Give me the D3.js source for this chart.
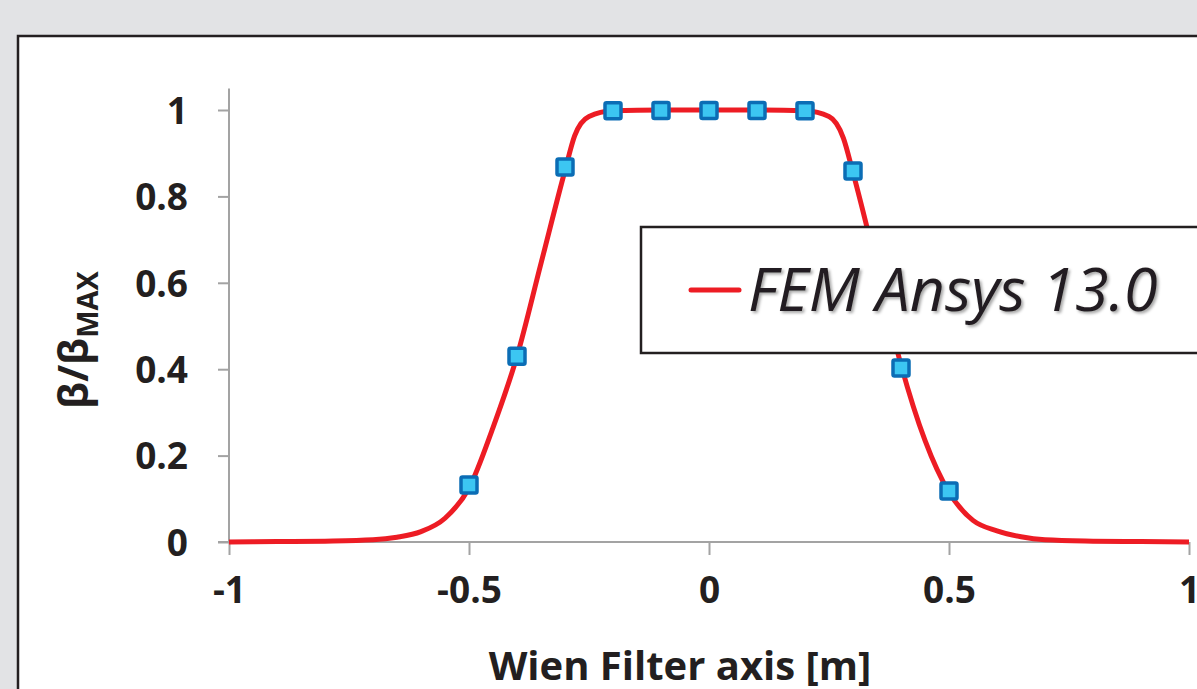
<!DOCTYPE html>
<html>
<head>
<meta charset="utf-8">
<script src="https://cdn.jsdelivr.net/npm/d3@7"></script>
<style>
  html, body { margin: 0; padding: 0; background: #e2e3e5; }
  svg { display: block; }
  text { fill: #231f20; }
</style>
</head>
<body>
<div id="chart"></div>
<script>
// FEM curve
var curveX = [-1, -0.9, -0.8, -0.7, -0.65, -0.6, -0.55, -0.5, -0.45, -0.4, -0.35, -0.3, -0.28, -0.25, -0.2,
              -0.1, 0, 0.1, 0.2, 0.25, 0.28, 0.3, 0.35, 0.4, 0.45, 0.5, 0.55, 0.6, 0.65, 0.7, 0.8, 0.9, 1];
var curveY = [0, 0.001, 0.002, 0.005, 0.011, 0.024, 0.055, 0.125, 0.265, 0.43, 0.645, 0.86, 0.94, 0.985, 0.998,
              1, 1, 1, 0.998, 0.985, 0.935, 0.855, 0.635, 0.41, 0.235, 0.115, 0.05, 0.026, 0.012, 0.005, 0.002, 0.001, 0];

// measured points (square markers)
var pointX = [-0.5, -0.4, -0.3, -0.2, -0.1, 0, 0.1, 0.2, 0.3, 0.4, 0.5];
var pointY = [0.132, 0.43, 0.868, 0.998, 0.999, 0.999, 0.999, 0.998, 0.859, 0.403, 0.118];

var xTicks = [-1, -0.5, 0, 0.5, 1];
var yTicks = [0, 0.2, 0.4, 0.6, 0.8, 1];
var legendLabel = "FEM Ansys 13.0";

var width = 1197, height = 689;

var svg = d3.select("#chart").append("svg")
    .attr("width", width)
    .attr("height", height);

var defs = svg.append("defs");
var shadow = defs.append("filter").attr("id", "shadow")
    .attr("x", "-10%").attr("y", "-20%").attr("width", "130%").attr("height", "160%");
shadow.append("feDropShadow")
    .attr("dx", 2).attr("dy", 2).attr("stdDeviation", 1.5)
    .attr("flood-color", "#000").attr("flood-opacity", 0.35);

// grey page, white panel
svg.append("rect").attr("width", width).attr("height", height).attr("fill", "#e2e3e5");
svg.append("rect")
    .attr("x", 18).attr("y", 36).attr("width", 1400).attr("height", 900)
    .attr("fill", "#fff").attr("stroke", "#231f20").attr("stroke-width", 2.5);

var x = d3.scaleLinear().domain([-1, 1]).range([229, 1189]);
var y = d3.scaleLinear().domain([0, 1.05]).range([542, 542 - 1.05 * 432]);

var font = "'Open Sans', sans-serif";
var axisColor = "#a3a3a3";

// y axis
var yAxis = svg.append("g")
    .attr("transform", "translate(229,0)")
    .call(d3.axisLeft(y).tickValues(yTicks).tickSize(11).tickPadding(30)
        .tickFormat(function (d) { return d === 0 || d === 1 ? String(d) : d3.format(".1f")(d); }));
yAxis.select(".domain").attr("stroke", axisColor).attr("stroke-width", 2)
    .attr("d", "M0," + y(1.05) + "V" + y(0));
yAxis.selectAll(".tick line").attr("stroke", axisColor).attr("stroke-width", 2);
yAxis.selectAll(".tick text")
    .attr("fill", "#231f20").attr("dy", "0.36em")
    .style("font-family", font).style("font-weight", "bold").style("font-size", "37px");

// x axis
var xAxis = svg.append("g")
    .attr("transform", "translate(0,542)")
    .call(d3.axisBottom(x).tickValues(xTicks).tickSize(13).tickPadding(22)
        .tickFormat(function (d) { return d3.format("")(d); }));
xAxis.select(".domain").attr("stroke", axisColor).attr("stroke-width", 2)
    .attr("d", "M218,0H" + x(1));
xAxis.selectAll(".tick line").attr("stroke", axisColor).attr("stroke-width", 2);
xAxis.selectAll(".tick text")
    .attr("fill", "#231f20")
    .style("font-family", font).style("font-weight", "bold").style("font-size", "37px");
xAxis.selectAll(".tick text").text(function (d) { return d < 0 ? "-" + Math.abs(d) : String(d); });

// axis titles
svg.append("text")
    .attr("x", 680).attr("y", 680)
    .attr("text-anchor", "middle")
    .style("font-family", font).style("font-weight", "bold").style("font-size", "40px")
    .text("Wien Filter axis [m]");

var yTitle = svg.append("text")
    .attr("transform", "translate(88,340) rotate(-90)")
    .attr("text-anchor", "middle")
    .style("font-family", font).style("font-weight", "bold").style("font-size", "41px");
yTitle.append("tspan").text("β/β");
yTitle.append("tspan").attr("dy", 10).style("font-size", "29px").text("MAX");

// curve
var line = d3.line()
    .x(function (d) { return x(d[0]); })
    .y(function (d) { return y(d[1]); })
    .curve(d3.curveMonotoneX);

svg.append("path")
    .datum(d3.zip(curveX, curveY))
    .attr("d", line)
    .attr("fill", "none")
    .attr("stroke", "#ed1c24")
    .attr("stroke-width", 5)
    .attr("stroke-linejoin", "round");

// markers
svg.append("g").selectAll("rect")
    .data(d3.zip(pointX, pointY))
    .enter().append("rect")
    .attr("x", function (d) { return x(d[0]) - 8; })
    .attr("y", function (d) { return y(d[1]) - 8; })
    .attr("width", 16).attr("height", 16)
    .attr("rx", 1.5)
    .attr("fill", "#3cc6f2")
    .attr("stroke", "#0b6db5")
    .attr("stroke-width", 3.5);

// legend
var legend = svg.append("g").attr("transform", "translate(641,227)");
legend.append("rect")
    .attr("width", 700).attr("height", 126)
    .attr("fill", "#fff").attr("stroke", "#231f20").attr("stroke-width", 2.5);
legend.append("line")
    .attr("x1", 50).attr("x2", 98).attr("y1", 63).attr("y2", 63)
    .attr("stroke", "#ed1c24").attr("stroke-width", 5).attr("stroke-linecap", "round");
legend.append("text")
    .attr("x", 107).attr("y", 84)
    .attr("filter", "url(#shadow)")
    .style("font-family", font).style("font-style", "italic").style("font-size", "61px")
    .text(legendLabel);
</script>
</body>
</html>
